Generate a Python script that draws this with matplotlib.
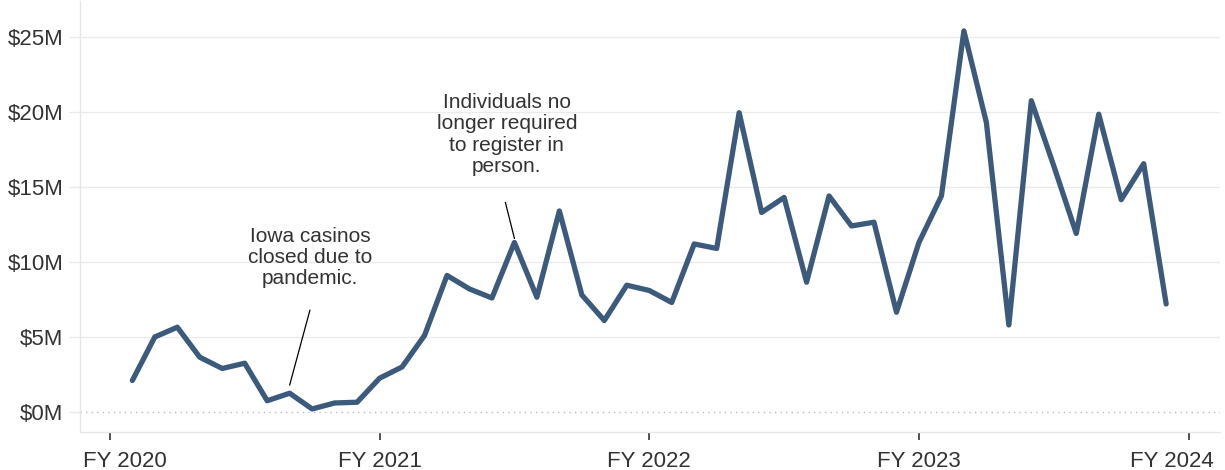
import numpy as np
import matplotlib
matplotlib.use("Agg")
import matplotlib.pyplot as plt
import matplotlib.transforms as mtransforms

# monthly values in $M, Aug 2019 .. Jun 2023 (month index 1 = Aug 2019, FY 2020 starts at 0)
months = list(range(1, 48))
revenue_m = [2.1, 5.0, 5.65, 3.65, 2.9, 3.25, 0.75, 1.25, 0.2, 0.6, 0.65,
             2.25, 3.0, 5.1, 9.1, 8.2, 7.6, 11.3, 7.65, 13.4, 7.8, 6.1, 8.45,
             8.1, 7.3, 11.2, 10.9, 19.95, 13.3, 14.3, 8.65, 14.4, 12.4, 12.65,
             6.65, 11.3, 14.4, 25.4, 19.3, 5.8, 20.75, 16.4, 11.9, 19.85,
             14.15, 16.55, 7.2]

fy_ticks = [0, 12, 24, 36, 48]
fy_labels = ["FY 2020", "FY 2021", "FY 2022", "FY 2023", "FY 2024"]
y_ticks = [0, 5, 10, 15, 20, 25]
y_labels = ["$0M", "$5M", "$10M", "$15M", "$20M", "$25M"]

plt.rcParams['font.family'] = ['Liberation Sans', 'DejaVu Sans']

fig = plt.figure(figsize=(12.25, 4.7), dpi=100)
ax = fig.add_axes([0.0653, 0.081, 0.9307, 0.917])

ax.plot(months, revenue_m, color='#3c5a7c', linewidth=3.8,
        solid_joinstyle='round', solid_capstyle='round', zorder=3)

ax.set_xlim(-1.33, 49.4)
ax.set_ylim(-1.33, 27.4)

for v in y_ticks[1:]:
    ax.axhline(v, color='#ebebeb', linewidth=1, zorder=1)
ax.axhline(0, color='#bdbdbd', linewidth=1, linestyle=(0, (1, 3)), zorder=1)

ax.set_yticks(y_ticks)
ax.set_yticklabels(y_labels)
ax.set_xticks(fy_ticks)
ax.set_xticklabels(fy_labels)

ax.tick_params(axis='y', length=8, width=1, color='#ebebeb', pad=4,
               labelsize=16, labelcolor='#333333')
ax.tick_params(axis='x', length=6, width=1.2, color='#333333', pad=8,
               labelsize=16, labelcolor='#333333')

# keep the end labels inside the plot, like the original
xlabels = ax.get_xticklabels()
xlabels[0].set_transform(xlabels[0].get_transform() +
                         mtransforms.ScaledTranslation(15 / 100, 0, fig.dpi_scale_trans))
xlabels[-1].set_transform(xlabels[-1].get_transform() +
                          mtransforms.ScaledTranslation(-17 / 100, 0, fig.dpi_scale_trans))

for side in ['top', 'right']:
    ax.spines[side].set_visible(False)
for side in ['left', 'bottom']:
    ax.spines[side].set_color('#e6e6e6')
    ax.spines[side].set_linewidth(1)

# annotations
ax.plot([8.9, 8.0], [6.78, 1.8], color='black', linewidth=0.9, zorder=2)
ax.text(8.9, 10.3, "Iowa casinos\nclosed due to\npandemic.", ha='center', va='center',
        fontsize=15, color='#333333', linespacing=1.15)

ax.plot([17.6, 18.0], [13.96, 11.57], color='black', linewidth=0.9, zorder=2)
ax.text(17.66, 18.5, "Individuals no\nlonger required\nto register in\nperson.", ha='center',
        va='center', fontsize=15, color='#333333', linespacing=1.15)

fig.savefig("out.png", dpi=100)
